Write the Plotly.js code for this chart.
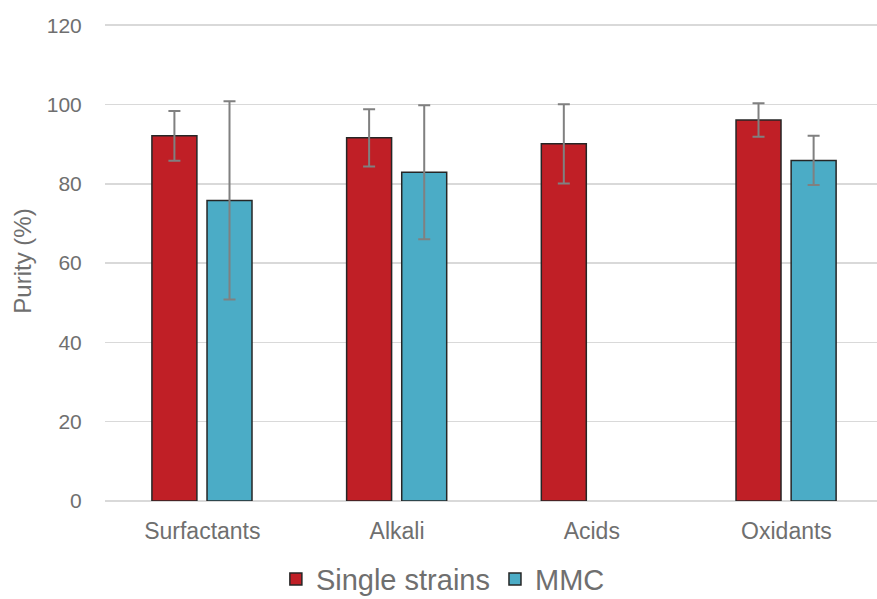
<!DOCTYPE html>
<html>
<head>
<meta charset="utf-8">
<script src="https://cdn.plot.ly/plotly-3.0.1.min.js"></script>
<style>html,body{margin:0;padding:0;background:#fff;}#chart{width:877px;height:599px;}</style>
</head>
<body>
<div id="chart"></div>
<script>
const categories = ["Surfactants", "Alkali", "Acids", "Oxidants"];
const singleStrains = [92.1, 91.6, 90.1, 96.1];
const singleStrainsErr = [6.3, 7.2, 10.0, 4.2];
const mmc = [75.8, 82.9, null, 85.9];
const mmcErr = [25.0, 16.9, null, 6.2];
const yTicks = [0, 20, 40, 60, 80, 100, 120];

const textColor = '#6f6f6f';
const errStyle = {type: 'data', visible: true, color: '#808080', thickness: 2, width: 6};
const traces = [
  {
    type: 'bar', name: 'Single strains', x: categories, y: singleStrains,
    width: 0.231, offset: -0.259,
    marker: {color: '#C01F26', line: {color: '#262626', width: 1.5}},
    error_y: Object.assign({array: singleStrainsErr}, errStyle)
  },
  {
    type: 'bar', name: 'MMC', x: categories, y: mmc,
    width: 0.231, offset: 0.024,
    marker: {color: '#4BACC6', line: {color: '#262626', width: 1.5}},
    error_y: Object.assign({array: mmcErr}, errStyle)
  }
];

const layout = {
  width: 877, height: 599,
  margin: {l: 105, r: 0, t: 21, b: 98, autoexpand: false},
  paper_bgcolor: '#fff', plot_bgcolor: '#fff',
  font: {family: 'Liberation Sans, Arial, sans-serif', color: textColor},
  barmode: 'group',
  showlegend: true,
  legend: {
    orientation: 'h', xref: 'container', yref: 'paper',
    x: 0.505, xanchor: 'center', y: -0.163, yanchor: 'middle',
    font: {size: 29, color: textColor}, itemwidth: 30, tracegroupgap: 0
  },
  xaxis: {
    type: 'category', range: [-0.5, 3.465],
    showgrid: false, zeroline: false, showline: false,
    ticks: 'outside', ticklen: 9, tickcolor: 'rgba(0,0,0,0)',
    tickfont: {size: 23, color: textColor}
  },
  yaxis: {
    range: [0, 121.07], tickvals: yTicks, ticktext: yTicks.map(String),
    showgrid: true, gridcolor: '#d9d9d9', gridwidth: 1.5,
    zeroline: true, zerolinecolor: '#d9d9d9', zerolinewidth: 1.5,
    showline: false,
    ticks: 'outside', ticklen: 18, tickcolor: 'rgba(0,0,0,0)',
    tickfont: {size: 21, color: textColor},
    title: {text: 'Purity (%)', font: {size: 24, color: textColor}, standoff: 8}
  }
};

Plotly.newPlot('chart', traces, layout, {displayModeBar: false, staticPlot: true});
</script>
</body>
</html>
